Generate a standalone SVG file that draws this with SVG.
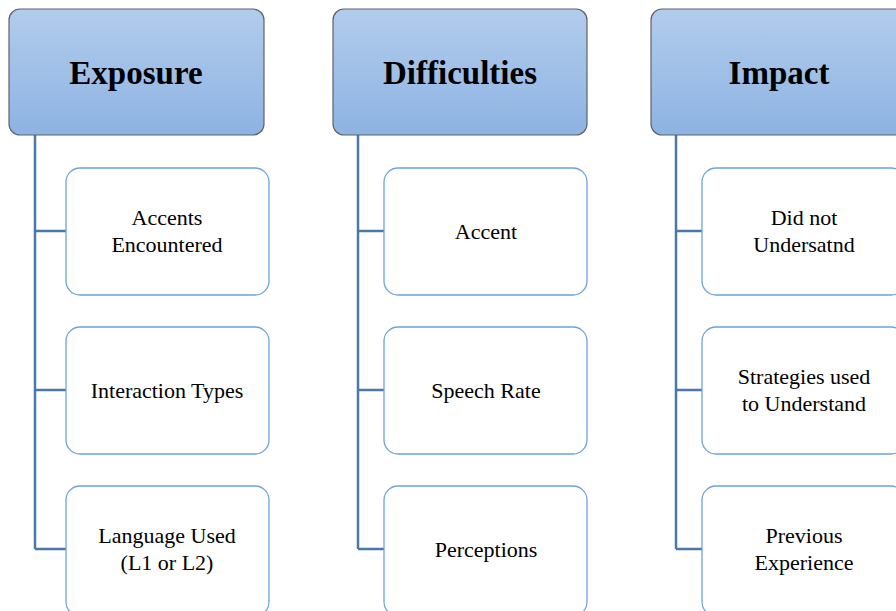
<svg xmlns="http://www.w3.org/2000/svg" width="896" height="611" viewBox="0 0 896 611">
<style>
text{font-family:"Liberation Serif","Times New Roman",serif !important;fill:#000;text-anchor:middle}
.ht{font-weight:bold;font-size:33px}
.bt{font-size:22px}
.hdr{stroke:#5f6368;stroke-width:1.2;fill:url(#g)}
.box{fill:#fff;stroke:#6fa3dc;stroke-width:1.3}
.c{stroke:#4a78aa;stroke-width:2.5;fill:none}
</style>
<defs>
<linearGradient id="g" x1="0" y1="0" x2="0" y2="1">
<stop offset="0" stop-color="#b2cced"/>
<stop offset="1" stop-color="#8db3e2"/>
</linearGradient>
</defs>
<g id="connectors">
<path class="c" d="M35 135V549M35 231H66M35 390H66M35 549H66"/>
<path class="c" d="M358 135V549M358 231H384M358 390H384M358 549H384"/>
<path class="c" d="M676 135V549M676 231H702M676 390H702M676 549H702"/>
</g>
<g id="exposure"><rect class="hdr" x="9" y="9" width="255" height="126" rx="11"/><text class="ht" x="136" y="84" font-family="Liberation Serif">Exposure</text></g>
<g id="difficulties"><rect class="hdr" x="333" y="9" width="254" height="126" rx="11"/><text class="ht" x="460" y="84" font-family="Liberation Serif">Difficulties</text></g>
<g id="impact"><rect class="hdr" x="651" y="9" width="256" height="126" rx="11"/><text class="ht" x="779" y="84" font-family="Liberation Serif">Impact</text></g>
<g id="accents"><rect class="box" x="66" y="168" width="203" height="127" rx="14"/><text class="bt" x="167" y="225" font-family="Liberation Serif">Accents</text><text class="bt" x="167" y="252" font-family="Liberation Serif">Encountered</text></g>
<g id="interaction"><rect class="box" x="66" y="327" width="203" height="127" rx="14"/><text class="bt" x="167" y="398" font-family="Liberation Serif">Interaction Types</text></g>
<g id="language"><rect class="box" x="66" y="486" width="203" height="130" rx="14"/><text class="bt" x="167" y="543" font-family="Liberation Serif">Language Used</text><text class="bt" x="167" y="570" font-family="Liberation Serif">(L1 or L2)</text></g>
<g id="accent"><rect class="box" x="384" y="168" width="203" height="127" rx="14"/><text class="bt" x="486" y="239" font-family="Liberation Serif">Accent</text></g>
<g id="speechrate"><rect class="box" x="384" y="327" width="203" height="127" rx="14"/><text class="bt" x="486" y="398" font-family="Liberation Serif">Speech Rate</text></g>
<g id="perceptions"><rect class="box" x="384" y="486" width="203" height="130" rx="14"/><text class="bt" x="486" y="557" font-family="Liberation Serif">Perceptions</text></g>
<g id="didnot"><rect class="box" x="702" y="168" width="203" height="127" rx="14"/><text class="bt" x="804" y="225" font-family="Liberation Serif">Did not</text><text class="bt" x="804" y="252" font-family="Liberation Serif">Undersatnd</text></g>
<g id="strategies"><rect class="box" x="702" y="327" width="203" height="127" rx="14"/><text class="bt" x="804" y="384" font-family="Liberation Serif">Strategies used</text><text class="bt" x="804" y="411" font-family="Liberation Serif">to Understand</text></g>
<g id="previous"><rect class="box" x="702" y="486" width="203" height="130" rx="14"/><text class="bt" x="804" y="543" font-family="Liberation Serif">Previous</text><text class="bt" x="804" y="570" font-family="Liberation Serif">Experience</text></g>
</svg>
